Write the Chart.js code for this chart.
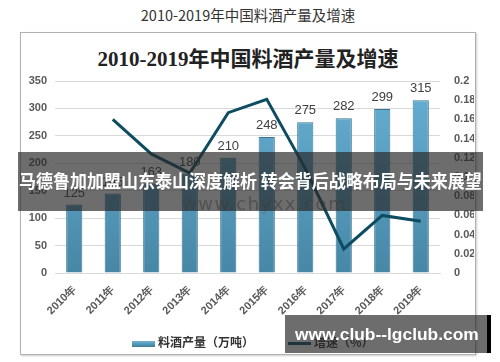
<!DOCTYPE html>
<html>
<head>
<meta charset="utf-8">
<script src="https://cdn.jsdelivr.net/npm/chart.js@4"></script>
<style>
  body { margin: 0; width: 500px; height: 362px; background: #fff; position: relative; overflow: hidden; font-family: "Noto Sans CJK SC", sans-serif; }
  #outerTitle { position: absolute; left: 0; top: 4px; width: 496px; text-align: center; font-size: 14.5px; color: #333; }
  #panel { position: absolute; left: 20px; top: 32px; width: 454px; height: 321px; border: 1px solid #b0b0b0; box-shadow: 1px 1px 2px #ccc; }
  #innerTitle { position: absolute; left: 20px; top: 42px; width: 456px; text-align: center; font-size: 21px; font-weight: bold; color: #222; font-family: "Liberation Serif", "Noto Sans CJK SC", serif; }
  #wrap { position: absolute; left: 21px; top: 33px; width: 453px; height: 320px; }
  .legend { position: absolute; top: 333px; font-size: 12px; font-weight: bold; color: #333; }
  .sw { display: inline-block; width: 23px; vertical-align: middle; margin-right: 3px; }
  #watermark { position: absolute; left: 182px; top: 193px; font-size: 18px; letter-spacing: 1.5px; color: rgba(110,110,110,0.6); font-family: "DejaVu Sans", sans-serif; }
  .banner { position: absolute; background: rgba(40,40,40,0.68); color: #fff; font-weight: bold; overflow: hidden; }
  .banner span { position: absolute; left: 0; top: 0; white-space: nowrap; transform-origin: 0 0; }
  #banner1 { left: 18px; top: 152px; width: 465px; height: 59px; font-size: 18.3px; }
  #banner2 { left: 285px; top: 315px; width: 202px; height: 38px; font-size: 17px; font-family: "Liberation Sans", sans-serif; border-right: 4px solid #000; }
</style>
</head>
<body>
<div id="outerTitle">2010-2019年中国料酒产量及增速</div>
<div id="panel"></div>
<div id="innerTitle">2010-2019年中国料酒产量及增速</div>
<div id="wrap"><canvas id="chart" width="453" height="320"></canvas></div>
<div class="legend" style="left:132px"><span class="sw" style="height:6px;background:linear-gradient(#6fb3d4,#3e7d99)"></span>料酒产量（万吨）</div>
<div class="legend" style="left:288px"><span class="sw" style="height:3px;background:#0e4d61"></span>增速（%）</div>
<div id="watermark">www.chyxx.com</div>
<div class="banner" id="banner1"><span>马德鲁加加盟山东泰山深度解析 转会背后战略布局与未来展望</span></div>
<div class="banner" id="banner2"><span>www.club--lgclub.com</span></div>
<script>
const years = ['2010年', '2011年', '2012年', '2013年', '2014年', '2015年', '2016年', '2017年', '2018年', '2019年'];
const output = [125, 145, 163, 180, 210, 248, 275, 282, 299, 315];
const growth = [null, 0.16, 0.124, 0.104, 0.167, 0.181, 0.109, 0.025, 0.06, 0.054];
const outputLabel = '料酒产量（万吨）';
const growthLabel = '增速（%）';

const tickFont = { family: 'Liberation Sans', size: 11, weight: 'bold' };

// squeeze banner text into a given box
function fitText(id, x, width, centerY) {
    const box = document.getElementById(id);
    const span = box.querySelector('span');
    const w = span.offsetWidth, h = span.offsetHeight;
    const s = width / w;
    span.style.transform = 'translate(' + x + 'px,' + (centerY - h / 2) + 'px) scaleX(' + s + ')';
}
fitText('banner1', 1, 463, 28);
fitText('banner2', 10, 184, 20);

// value labels above bars
const barLabels = {
    id: 'barLabels',
    afterDatasetsDraw(chart) {
        const ctx = chart.ctx;
        const meta = chart.getDatasetMeta(0);
        ctx.save();
        ctx.font = '13px "Liberation Sans"';
        ctx.fillStyle = '#404040';
        ctx.textAlign = 'center';
        ctx.textBaseline = 'bottom';
        meta.data.forEach((bar, i) => {
            ctx.fillText(output[i], bar.x, bar.y - 5);
        });
        ctx.restore();
    }
};

function barGradient(context) {
    const area = context.chart.chartArea;
    if (!area) return '#5aa2c6';
    const g = context.chart.ctx.createLinearGradient(0, area.top, 0, area.bottom);
    g.addColorStop(0, '#67b0d4');
    g.addColorStop(1, '#4787a6');
    return g;
}

const ctx = document.getElementById('chart').getContext('2d');
new Chart(ctx, {
    data: {
        labels: years,
        datasets: [
            {
                type: 'bar',
                label: outputLabel,
                data: output,
                yAxisID: 'y',
                backgroundColor: barGradient,
                borderColor: '#3b7690',
                borderWidth: 1,
                barPercentage: 0.42,
                categoryPercentage: 1,
                order: 2
            },
            {
                type: 'line',
                label: growthLabel,
                data: growth,
                yAxisID: 'y1',
                borderColor: '#0e4d61',
                borderWidth: 3,
                pointRadius: 0,
                tension: 0,
                order: 1
            }
        ]
    },
    options: {
        responsive: false,
        animation: false,
        layout: { padding: { top: 48, left: 0, right: 0, bottom: 30 } },
        plugins: {
            legend: { display: false },
            tooltip: { enabled: false }
        },
        scales: {
            x: {
                grid: { display: false },
                border: { color: '#d9d9d9' },
                ticks: { color: '#595959', font: tickFont, minRotation: 45, maxRotation: 45, padding: 2 },
                afterFit(scale) { scale.height = 50; }
            },
            y: {
                position: 'left',
                min: 0,
                max: 350,
                ticks: { stepSize: 50, color: '#595959', font: tickFont, padding: 8 },
                grid: { color: '#d9d9d9', drawTicks: false },
                border: { display: false },
                afterFit(scale) { scale.width = 34; }
            },
            y1: {
                position: 'right',
                min: 0,
                max: 0.2,
                ticks: { stepSize: 0.02, color: '#595959', font: tickFont, padding: 6,
                    callback: v => Math.round(v * 100) / 100 },
                grid: { display: false },
                border: { display: false },
                afterFit(scale) { scale.width = 34; }
            }
        }
    },
    plugins: [barLabels]
});
</script>
</body>
</html>
